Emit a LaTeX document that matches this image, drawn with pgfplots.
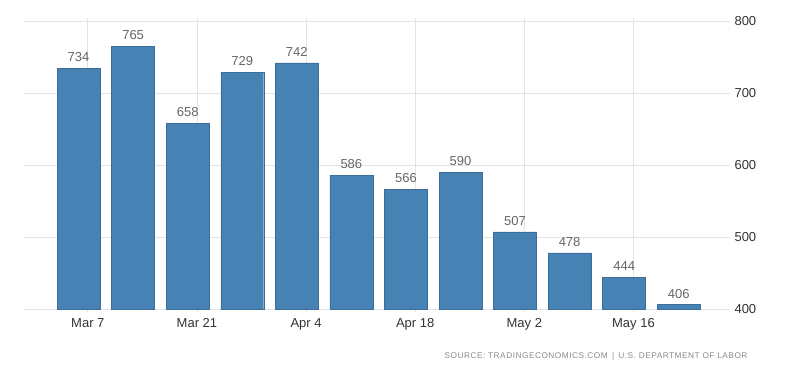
\documentclass[border=0pt]{standalone}
\usepackage{fontspec}
\setmainfont{Liberation Sans}
\newfontfamily\srcfont[LetterSpace=6]{Liberation Sans}
\usepackage{pgfplots}
\pgfplotsset{compat=1.18}
\definecolor{barblue}{HTML}{4682B4}
\definecolor{gridgray}{HTML}{E3E3E3}
\definecolor{lblgray}{HTML}{666666}
\definecolor{tickdark}{HTML}{333333}
\definecolor{srcgray}{HTML}{8A8A8A}
\begin{document}
\begin{tikzpicture}
\begin{axis}[
  scale only axis,
  width=706pt, height=288pt,
  xmin=-1, xmax=11.94,
  ymin=400, ymax=800,
  ytick={400,500,600,700,800},
  yticklabel pos=right,
  yticklabel style={anchor=west, xshift=-2pt, font=\fontsize{13}{13}\selectfont, text=tickdark},
  xtick={0.17,2.17,4.17,6.17,8.17,10.17},
  xticklabels={Mar 7,Mar 21,Apr 4,Apr 18,May 2,May 16},
  xticklabel style={font=\fontsize{13}{13}\selectfont, text=tickdark, yshift=-3pt},
  /pgf/number format/assume math mode=true,
  axis line style={draw=none},
  ymajorgrids, xmajorgrids,
  grid style={gridgray, line width=0.8pt},
  major tick length=3pt,
  xtick style={draw=gridgray, line width=0.8pt},
  ytick style={draw=none},
  tick align=outside,
  ybar,
  bar width=0.787,
  nodes near coords,
  every node near coord/.append style={font=\fontsize{13}{13}\selectfont, text=lblgray, yshift=3pt},
  clip=false,
]
\addplot[fill=barblue, draw=barblue!85!black, line width=0.4pt] coordinates {
(0,734) (1,765) (2,658) (3,729) (4,742) (5,586) (6,566) (7,590) (8,507) (9,478) (10,444) (11,406)
};
\end{axis}
\node[anchor=east, text=srcgray, font=\srcfont\fontsize{8.3}{8.3}\selectfont] at (727pt,-47pt) {SOURCE: TRADINGECONOMICS.COM \,|\, U.S. DEPARTMENT OF LABOR};
\path[use as bounding box] (-24pt,-64pt) rectangle (776pt,309pt);
\end{tikzpicture}
\end{document}
